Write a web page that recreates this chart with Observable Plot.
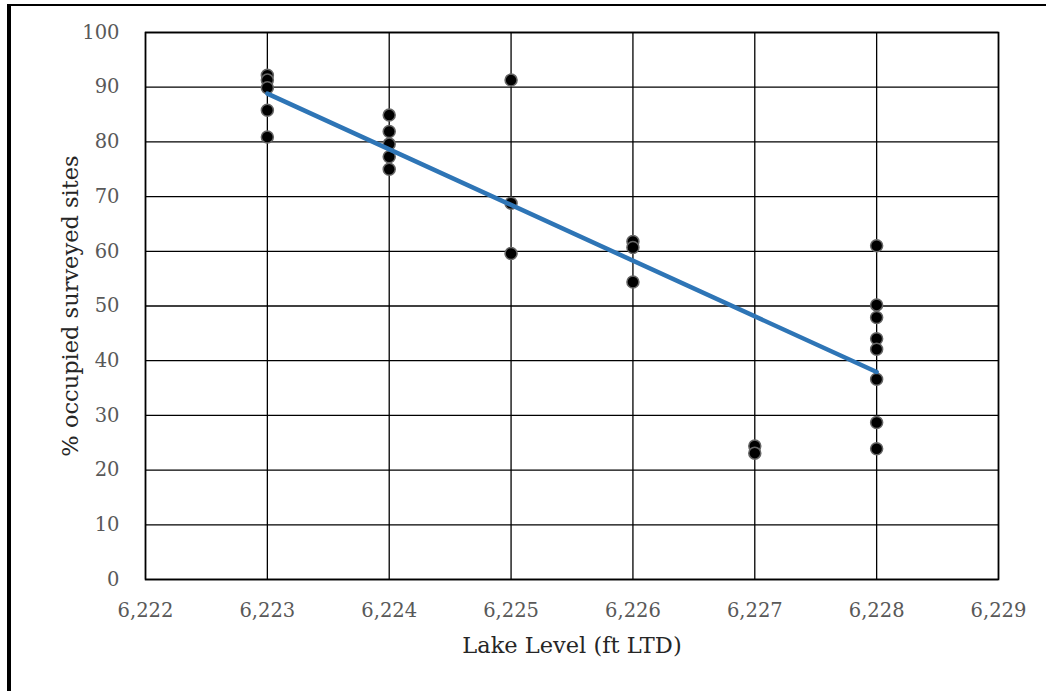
<!DOCTYPE html>
<html>
<head>
<meta charset="utf-8">
<script src="https://cdn.jsdelivr.net/npm/d3@7"></script>
<script src="https://cdn.jsdelivr.net/npm/@observablehq/plot@0.6"></script>
<style>
  html, body { margin: 0; padding: 0; background: #fff; overflow: hidden; }
  #wrap { position: relative; width: 1046px; height: 691px; }
  #border { position: absolute; left: 7px; top: 4px; width: 1100px; height: 800px;
            border-left: 4px solid #000; border-top: 2px solid #000; pointer-events: none; }
  #chart { position: absolute; left: 0; top: 0; }
</style>
</head>
<body>
<div id="wrap"><div id="chart"></div><div id="border"></div></div>
<script>
// Lake level (ft LTD) for each survey
const lakeLevel = [
  6223, 6223, 6223, 6223, 6223,
  6224, 6224, 6224, 6224, 6224,
  6225, 6225, 6225,
  6226, 6226, 6226,
  6227, 6227,
  6228, 6228, 6228, 6228, 6228, 6228, 6228, 6228
];
// % occupied surveyed sites
const occupied = [
  92.2, 91.3, 89.9, 85.8, 80.9,
  84.9, 81.9, 79.6, 77.3, 75.0,
  91.3, 68.8, 59.6,
  61.8, 60.7, 54.4,
  24.4, 23.1,
  61.0, 50.2, 47.9, 44.0, 42.1, 36.6, 28.7, 23.9
];
const xTicks = [6222, 6223, 6224, 6225, 6226, 6227, 6228, 6229];
const yTicks = [0, 10, 20, 30, 40, 50, 60, 70, 80, 90, 100];
const xTitle = "Lake Level (ft LTD)";
const yTitle = "% occupied surveyed sites";

const data = lakeLevel.map((x, i) => ({x, y: occupied[i]}));

const font = "'DejaVu Serif', serif";
const chart = Plot.plot({
  width: 1046,
  height: 691,
  marginLeft: 145,
  marginRight: 48,
  marginTop: 32,
  marginBottom: 112,
  style: {fontFamily: font, background: "transparent"},
  x: {domain: [6222, 6229]},
  y: {domain: [0, 100]},
  marks: [
    Plot.gridX(xTicks, {stroke: "#000", strokeOpacity: 1, strokeWidth: 1.3}),
    Plot.gridY(yTicks, {stroke: "#000", strokeOpacity: 1, strokeWidth: 1.3}),
    Plot.frame({stroke: "#000", strokeWidth: 1.6}),
    Plot.axisX(xTicks, {tickSize: 0, tickPadding: 24, tickFormat: d3.format(","), fontSize: 19.5, fill: "#595959", label: null}),
    Plot.axisY(yTicks, {tickSize: 0, tickPadding: 26, fontSize: 19.5, fill: "#595959", label: null}),
    Plot.dot(data, {x: "x", y: "y", r: 6, fill: "#000", stroke: "#666", strokeWidth: 1.5}),
    Plot.linearRegressionY(data, {x: "x", y: "y", stroke: "#2E75B6", strokeWidth: 4.5, ci: 0}),
    Plot.text([xTitle], {frameAnchor: "bottom", dy: 66, lineAnchor: "middle", textAnchor: "middle", fontSize: 22.5, fill: "#262626", text: d => d}),
    Plot.text([yTitle], {frameAnchor: "left", dx: -75, rotate: -90, lineAnchor: "middle", textAnchor: "middle", fontSize: 22.5, fill: "#262626", text: d => d})
  ]
});
document.getElementById("chart").appendChild(chart);
</script>
</body>
</html>
